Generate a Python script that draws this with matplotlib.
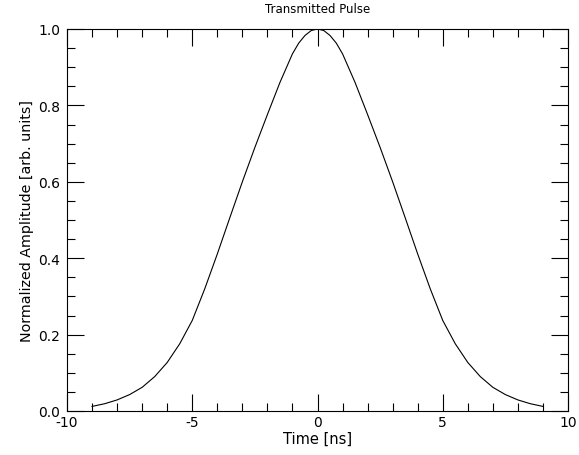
import numpy as np
import matplotlib
matplotlib.use('Agg')
import matplotlib.pyplot as plt
from matplotlib.ticker import MultipleLocator, FormatStrFormatter

# values
time_ns = [-9.0, -8.5, -8.0, -7.5, -7.0, -6.5, -6.0, -5.5, -5.0, -4.5,
           -4.0, -3.5, -3.0, -2.5, -2.0, -1.5, -1.0, -0.75, -0.5, -0.25,
           0.0, 0.25, 0.5, 0.75, 1.0, 1.5, 2.0, 2.5, 3.0, 3.5,
           4.0, 4.5, 5.0, 5.5, 6.0, 6.5, 7.0, 7.5, 8.0, 8.5, 9.0]
amplitude = [0.012, 0.019, 0.029, 0.043, 0.062, 0.090, 0.127, 0.176, 0.237, 0.320,
             0.411, 0.506, 0.600, 0.690, 0.776, 0.860, 0.935, 0.963, 0.983, 0.996,
             1.0, 0.996, 0.983, 0.963, 0.935, 0.860, 0.776, 0.690, 0.600, 0.506,
             0.411, 0.320, 0.237, 0.176, 0.127, 0.090, 0.062, 0.043, 0.029, 0.019, 0.012]

title = 'Transmitted Pulse'
xlabel = 'Time [ns]'
ylabel = 'Normalized Amplitude [arb. units]'

plt.rcParams['font.family'] = ['DejaVu Sans']

fig = plt.figure(figsize=(5.79, 4.56), dpi=100)
ax = fig.add_axes([67/579, 1 - 412/456, (568 - 67)/579, (412 - 30)/456])

ax.plot(time_ns, amplitude, color='black', lw=0.8)

ax.set_xlim(-10, 10)
ax.set_ylim(0, 1)
ax.xaxis.set_major_locator(MultipleLocator(5))
ax.xaxis.set_minor_locator(MultipleLocator(1))
ax.yaxis.set_major_locator(MultipleLocator(0.2))
ax.yaxis.set_minor_locator(MultipleLocator(0.05))
ax.yaxis.set_major_formatter(FormatStrFormatter('%.1f'))
ax.xaxis.set_major_formatter(FormatStrFormatter('%d'))

ax.tick_params(which='both', direction='in', top=True, right=True,
               width=0.8, color='black', labelsize=10)
ax.tick_params(which='major', length=12)
ax.tick_params(which='minor', length=6)
ax.tick_params(axis='x', pad=3)
ax.tick_params(axis='y', pad=5)
for s in ax.spines.values():
  s.set_linewidth(0.8)

ax.set_title(title, fontsize=8.5, pad=12)
ax.set_xlabel(xlabel, fontsize=10.5, labelpad=1)
ax.set_ylabel(ylabel, fontsize=10.3, labelpad=3)

fig.savefig('out.png', dpi=100)
